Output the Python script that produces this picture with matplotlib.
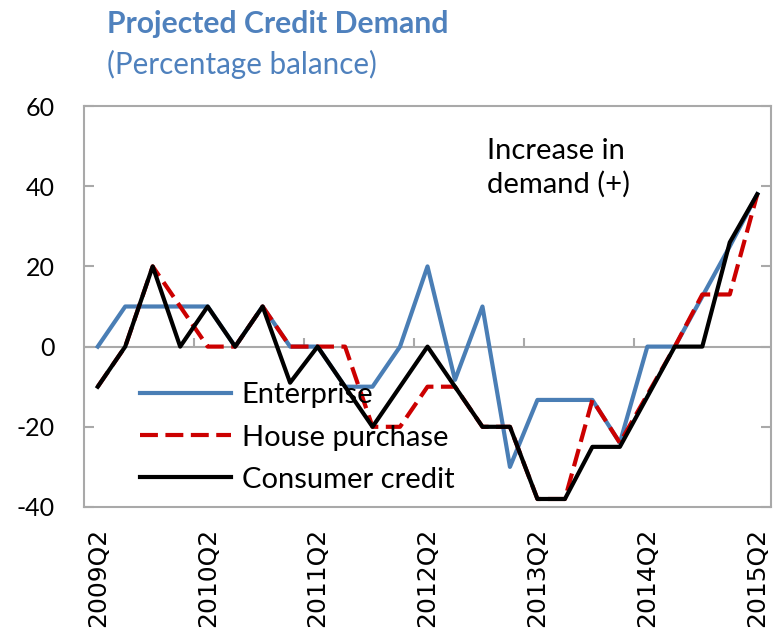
import matplotlib
matplotlib.use("Agg")
import matplotlib.pyplot as plt
import numpy as np

quarters = ["2009Q2", "2009Q3", "2009Q4", "2010Q1", "2010Q2", "2010Q3", "2010Q4",
            "2011Q1", "2011Q2", "2011Q3", "2011Q4", "2012Q1", "2012Q2", "2012Q3",
            "2012Q4", "2013Q1", "2013Q2", "2013Q3", "2013Q4", "2014Q1", "2014Q2",
            "2014Q3", "2014Q4", "2015Q1", "2015Q2"]
enterprise = [0, 10, 10, 10, 10, 0, 10, 0, 0, -10, -10, 0, 20, -8.3, 10, -30,
              -13.3, -13.3, -13.3, -24, 0, 0, 12.5, 25, 38]
house_purchase = [-10, 0, 20, 10, 0, 0, 10, 0, 0, 0, -20, -20, -10, -10, -20, -20,
                  -38, -38, -13.3, -24, -12, 0, 13, 13, 38]
consumer_credit = [-10, 0, 20, 0, 10, 0, 10, -9, 0, -10, -20, -10, 0, -10, -20, -20,
                   -38, -38, -25, -25, -12.5, 0, 0, 26, 38]
yticks = [-40, -20, 0, 20, 40, 60]

plt.rcParams['font.family'] = ['Lato', 'DejaVu Sans']

fig = plt.figure(figsize=(7.76, 6.4), dpi=100)
ax = fig.add_axes([84/776, 1-507/640, 687/776, 401/640])

grey = '#A9A9A9'
x = np.arange(len(quarters))

ax.plot(x, enterprise, color='#4A7EB5', lw=3, label='Enterprise', zorder=3)
ax.plot(x, house_purchase, color='#CC0000', lw=3, dashes=(4.3, 1.8), label='House purchase', zorder=4)
ax.plot(x, consumer_credit, color='black', lw=3, label='Consumer credit', zorder=5)

ax.set_xlim(-0.5, len(quarters) - 0.5)
ax.set_ylim(-40, 60)

# category axis line at zero with tick marks between categories
ax.axhline(0, color=grey, lw=1.5, zorder=1)
zero_frac = (0 - (-40)) / (60 - (-40))
boundaries = np.arange(-0.5, len(quarters), 4)[1:-1]
ax.vlines(boundaries, zero_frac, zero_frac + 9/401, transform=ax.get_xaxis_transform(),
          color=grey, lw=1.5, zorder=1)

for s in ax.spines.values():
    s.set_color(grey)
    s.set_linewidth(1.5)

ax.set_yticks(yticks)
ax.set_yticklabels([str(v) for v in yticks], fontsize=18)
ax.tick_params(axis='y', direction='in', length=7, width=1.5, color=grey,
               left=True, right=True, pad=21)

ax.set_xticks(x[::4])
ax.set_xticklabels(quarters[::4], rotation=90, fontsize=18, family='DejaVu Sans',
                   va='top', ha='center')
ax.tick_params(axis='x', length=0, pad=15)

leg = ax.legend(loc='lower left', bbox_to_anchor=(0.082, 0.036), frameon=False,
                fontsize=21, handlelength=3.1, handletextpad=0.38,
                labelspacing=0.55, borderpad=0, borderaxespad=0)

ax.text(0.587, 0.92, "Increase in\ndemand (+)", transform=ax.transAxes,
        fontsize=21, va='top', ha='left', linespacing=1.3)

title_color = '#4F81BD'
fig.text(107/776, 1-10/640, "Projected Credit Demand", fontsize=21.7, fontweight='bold',
         color=title_color, va='top', ha='left')
fig.text(107/776, 1-50/640, "(Percentage balance)", fontsize=21.3,
         color=title_color, va='top', ha='left')

fig.savefig("out.png", dpi=100)
